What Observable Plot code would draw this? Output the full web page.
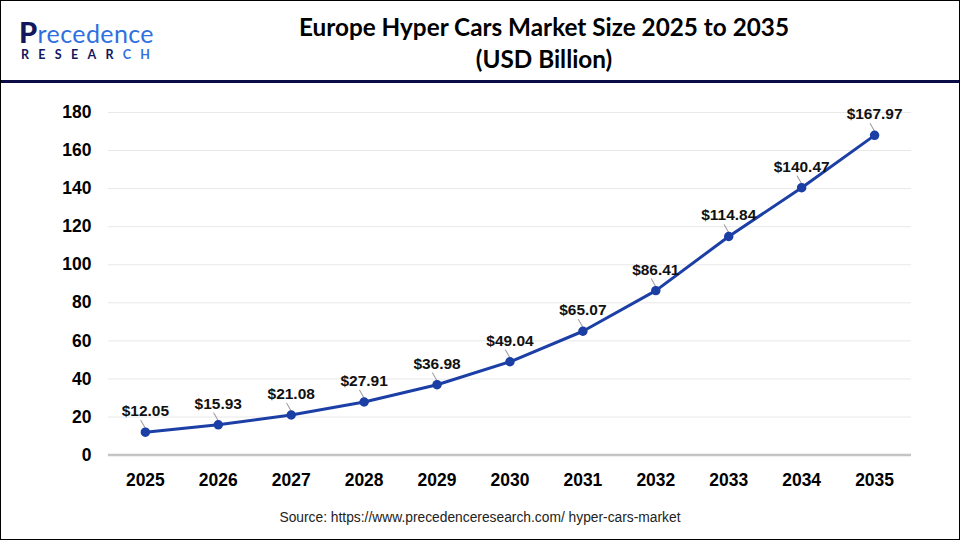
<!DOCTYPE html>
<html>
<head>
<meta charset="utf-8">
<script src="https://cdn.jsdelivr.net/npm/d3@7"></script>
<script src="https://cdn.jsdelivr.net/npm/@observablehq/plot@0.6"></script>
<style>
  html, body { margin: 0; padding: 0; background: #fff; }
  #frame { position: relative; width: 958px; height: 538px; border: 1px solid #000; overflow: hidden; background: #fff; }
  #header { position: relative; height: 79px; border-bottom: 3px solid #0b0b45; }
  #logo { position: absolute; left: 18px; top: 17px; font-family: "Lato", "Open Sans", sans-serif; }
  #logo .brand { font-size: 25px; line-height: 27px; height: 27px; color: #2f6fdf; letter-spacing: 0.4px; white-space: nowrap; }
  #logo .brand b { color: #12185e; font-weight: 900; font-size: 29px; }
  #logo .sub { font-size: 12.5px; line-height: 14px; font-weight: 700; letter-spacing: 9.3px; color: #12185e; margin-top: 3px; padding-left: 2px; white-space: nowrap; }
  #logo .sub span { color: #2f6fdf; }
  #title { position: absolute; left: 200px; width: 686px; top: 10px; text-align: center; font-family: "Lato", sans-serif; font-weight: 700; font-size: 24.3px; line-height: 32px; color: #000; }
  #chart { position: absolute; left: -1px; top: 82px; }
  #source { position: absolute; left: 0; width: 958px; top: 509px; text-align: center; font-family: "Liberation Sans", Arial, sans-serif; font-size: 13.8px; color: #222; }
</style>
</head>
<body>
<div id="frame">
  <div id="header">
    <div id="logo">
      <div class="brand"><b>P</b>recedence</div>
      <div class="sub">RESEAR<span>CH</span></div>
    </div>
    <div id="title">Europe Hyper Cars Market Size 2025 to 2035<br>(USD Billion)</div>
  </div>
  <div id="chart"></div>
  <div id="source">Source: https://www.precedenceresearch.com/ hyper-cars-market</div>
</div>
<script>
const years = ["2025","2026","2027","2028","2029","2030","2031","2032","2033","2034","2035"];
const values = [12.05, 15.93, 21.08, 27.91, 36.98, 49.04, 65.07, 86.41, 114.84, 140.47, 167.97];
const yTicks = [0, 20, 40, 60, 80, 100, 120, 140, 160, 180];

const data = years.map((year, i) => ({year, value: values[i], label: "$" + values[i].toFixed(2)}));
const lineColor = "#1c3fa6";

const chart = Plot.plot({
  width: 960,
  height: 418,
  marginTop: 29,
  marginBottom: 46,
  marginLeft: 108,
  marginRight: 48,
  style: { fontFamily: "Liberation Sans, Arial, sans-serif", fontSize: "17px", fontWeight: "bold", color: "#000", background: "transparent" },
  x: { type: "point", domain: years, padding: 0.5, label: null },
  y: { domain: [0, 180], label: null },
  marks: [
    Plot.ruleY(yTicks.filter(d => d > 0), { stroke: "#e8e8e8", strokeWidth: 1 }),
    Plot.ruleY([0], { stroke: "#c4c4c4", strokeWidth: 2.5 }),
    Plot.axisY({ ticks: yTicks, tickSize: 0, tickPadding: 17, fontSize: 17.5, fontWeight: "bold", label: null }),
    Plot.axisX({ tickSize: 0, tickPadding: 18, fontSize: 17.5, fontWeight: "bold", label: null }),
    Plot.vector(data, { x: "year", y: "value", length: 9, rotate: -30, anchor: "start", stroke: "#9a9a9a", strokeWidth: 1, dy: -4,
      shape: { draw(context, l) { context.moveTo(0, 0); context.lineTo(0, -l); } } }),
    Plot.line(data, { x: "year", y: "value", stroke: lineColor, strokeWidth: 3 }),
    Plot.dot(data, { x: "year", y: "value", r: 4, fill: lineColor, stroke: lineColor }),
    Plot.text(data, { x: "year", y: "value", text: "label", dy: -21, fontSize: 15.5, fontWeight: "bold", fill: "#111" })
  ]
});
document.getElementById("chart").appendChild(chart);
</script>
</body>
</html>
